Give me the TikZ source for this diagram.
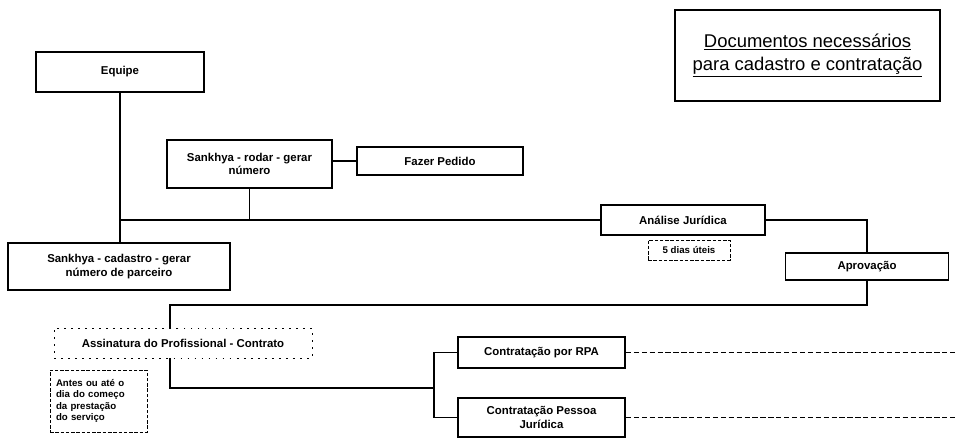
\documentclass[tikz,border=0pt]{standalone}
\usepackage{fontspec}
\setmainfont{Liberation Sans}
\usetikzlibrary{positioning}

\begin{document}
\begin{tikzpicture}[x=0.02cm,y=-0.02cm,
  caixa/.style={draw,line width=1.1pt,fill=white,align=center,inner sep=1pt,
    font=\fontsize{6.5}{7.5}\selectfont\bfseries},
  nota/.style={draw,thin,dash pattern=on 2pt off 1pt,fill=white,inner sep=2pt,
    font=\fontsize{5.5}{6.5}\selectfont\bfseries},
  liga/.style={line width=1.1pt},
  pontilhado/.style={thin,dash pattern=on 3pt off 1.5pt}]
  \useasboundingbox (0,0) rectangle (955,437);
  % caixas
  \node[caixa,minimum width=5.3cm,minimum height=1.82cm,line width=0.8pt,
    font=\fontsize{10.5}{13}\selectfont] (docs) at (807.5,55.5)
    {\underline{Documentos necessários}\\\underline{para cadastro e contratação}};
  \node[caixa,minimum width=3.36cm,minimum height=0.8cm] (equipe) at (120,72) {Equipe};
  \node[caixa,minimum width=3.3cm,minimum height=0.96cm] (rodar) at (249.5,164)
    {Sankhya - rodar - gerar\\número};
  \node[caixa,minimum width=3.32cm,minimum height=0.56cm] (pedido) at (440,161) {Fazer Pedido};
  \node[caixa,minimum width=3.28cm,minimum height=0.6cm] (analise) at (683,220) {Análise Jurídica};
  \node[nota,minimum width=1.64cm,minimum height=0.4cm] (dias) at (689,250) {5 dias úteis};
  \node[caixa,minimum width=3.26cm,minimum height=0.54cm] (aprov) at (867,266.5) {Aprovação};
  \node[caixa,minimum width=4.44cm,minimum height=0.94cm] (cadastro) at (119,266.5)
    {Sankhya - cadastro - gerar\\número de parceiro};
  \node[caixa,minimum width=3.34cm,minimum height=0.62cm] (rpa) at (541.5,352.5) {Contratação por RPA};
  \node[caixa,minimum width=3.34cm,minimum height=0.78cm] (pj) at (541.5,417.5)
    {Contratação Pessoa\\Jurídica};
  \node[nota,minimum width=1.94cm,minimum height=1.24cm,text width=1.7cm,align=left] (antes)
    at (98.5,401) {Antes ou até o\\dia do começo\\da prestação\\do serviço};
  % ligações
  \coordinate (j1) at (120,220);
  \coordinate (j2) at (170,305);
  \coordinate (j3) at (170,388);
  \coordinate (j4) at (434,388);
  \draw[liga] (equipe.south) -- (equipe.south |- cadastro.north);
  \draw[liga] (rodar.east |- pedido.west) -- (pedido.west);
  \draw[line width=0.6pt] (rodar.south) -- (rodar.south |- j1);
  \draw[liga] (j1) -- (analise.west);
  \draw[liga] (analise.east) -| (aprov.north);
  \draw[liga] (aprov.south) |- (j2) -- (j3) -- (j4);
  \draw[liga] (rpa.west) -| (j4) |- (pj.west);
  \node[fill=white,draw,thin,dash pattern=on 1pt off 3pt,minimum width=5.16cm,
    minimum height=0.6cm,inner sep=1pt,font=\fontsize{6.5}{7.5}\selectfont\bfseries]
    (assin) at (183,343) {Assinatura do Profissional - Contrato};
  % saídas tracejadas
  \coordinate (fim1) at (955,352.5);
  \coordinate (fim2) at (955,417.5);
  \draw[pontilhado] (rpa.east) -- (fim1);
  \draw[pontilhado] (pj.east) -- (fim2);
\end{tikzpicture}
\end{document}
